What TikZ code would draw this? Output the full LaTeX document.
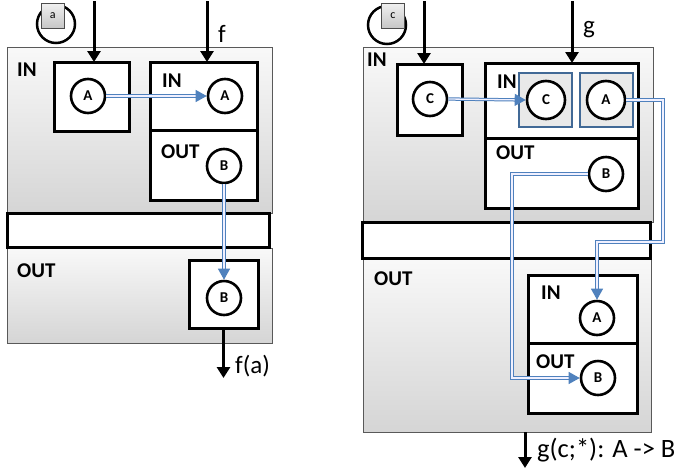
\documentclass[tikz,border=0pt]{standalone}
\usepackage{fontspec}
\setmainfont{Carlito}
\usetikzlibrary{arrows.meta,calc}
\definecolor{lblue}{RGB}{79,129,189}
\definecolor{dblue}{RGB}{65,105,150}
\tikzset{
 panel/.style={draw=gray!70!black,line width=.8pt,top color=gray!5,bottom color=gray!33,anchor=north west,inner sep=0,outer sep=0},
 box/.style={draw,line width=3pt,fill=white,anchor=north west,inner sep=0,outer sep=0},
 bbox/.style={draw=dblue,line width=2.6pt,fill=gray!17,anchor=north west,inner sep=0,outer sep=0,minimum width=53pt,minimum height=54pt},
 tok/.style={circle,draw,line width=2.6pt,fill=white,inner sep=0,minimum size=34pt,font=\fontsize{15}{15}\selectfont\bfseries},
 tokring/.style={circle,draw=black,line width=2.5pt,inner sep=0,minimum size=38pt},
 chip/.style={draw=gray!60!black,line width=.6pt,top color=gray!12,bottom color=gray!45,anchor=north west,inner sep=0,minimum width=23pt,minimum height=25pt,font=\fontsize{12}{12}\selectfont},
 lab/.style={anchor=west,inner sep=0,font=\fontsize{21}{21}\selectfont\bfseries},
 txt/.style={anchor=base west,inner sep=0,font=\fontsize{25}{25}\selectfont},
 blk/.style={line width=3pt,-{Triangle[length=11pt,width=13pt]}},
 flow/.style={draw=lblue,double=blue!6,double distance=1.3pt,line width=1pt,-{Triangle[length=11pt,width=12pt,fill=lblue]}}
}
\begin{document}
\begin{tikzpicture}[x=1pt,y=-1pt]
 \useasboundingbox (0,0) rectangle (682,472);
 % left: f applied to a
 \node[panel,minimum width=265pt,minimum height=166pt] (inL) at (7,47) {};
 \node[panel,minimum width=265pt,minimum height=95pt] (outL) at (7,248) {};
 \node[box,minimum width=262pt,minimum height=34pt] (barL) at (7,213) {};
 \node[box,minimum width=75pt,minimum height=69pt] (boxA) at (54,62) {};
 \node[box,minimum width=107pt,minimum height=68pt] (fIn) at (150,62) {};
 \node[box,minimum width=107pt,minimum height=70pt] (fOut) at (150,130) {};
 \node[box,minimum width=69pt,minimum height=68pt] (boxB) at (189,260) {};
 \node[lab] (inLl) at (17,70) {IN};
 \node[lab] (outLl) at (17,271) {OUT};
 \node[lab] (fInl) at (162,81) {IN};
 \node[lab] (fOutl) at (161,152) {OUT};
 \node[tok] (a1) at (88,96) {A};
 \node[tok] (fa) at (225,96) {A};
 \node[tok] (fb) at (224,166) {B};
 \node[tok] (b2) at (224,298) {B};
 \node[tokring] (ra) at (56,24) {};
 \node[chip] (ca) at (41,3) {a};
 \node[txt] (fl) at (218,42) {f};
 \coordinate (ta) at (94,1);
 \coordinate (tf) at (207,1);
 \coordinate (ofa) at (223.5,378);
 \node[txt] (fal) at (235,373) {f(a)};
 \draw[blk] (ta) -- (ta |- boxA.north);
 \draw[blk] (tf) -- (tf |- fIn.north);
 \draw[blk] (boxB.south) -- (ofa);
 \draw[flow] (a1.east) -- (fa.west);
 \draw[flow] (fb.south) -- (b2.north);
 % right: g applied to c
 \node[panel,minimum width=290pt,minimum height=175pt] (inR) at (363,47) {};
 \node[panel,minimum width=288pt,minimum height=174pt] (outR) at (363,258) {};
 \node[box,minimum width=288pt,minimum height=36pt] (barR) at (362,222) {};
 \node[box,minimum width=65pt,minimum height=71pt] (boxC) at (397,64) {};
 \node[box,minimum width=153pt,minimum height=75pt] (gIn) at (485,63) {};
 \node[box,minimum width=153pt,minimum height=70pt] (gOut) at (485,138) {};
 \node[bbox] (cB) at (519,73) {};
 \node[bbox] (aB) at (580,73) {};
 \node[box,minimum width=109pt,minimum height=68pt] (hIn) at (528,275) {};
 \node[box,minimum width=109pt,minimum height=70pt] (hOut) at (528,343) {};
 \node[lab] (inRl) at (367,60) {IN};
 \node[lab] (outRl) at (374,279) {OUT};
 \node[lab] (gInl) at (497,82) {IN};
 \node[lab] (gOutl) at (496,153) {OUT};
 \node[lab] (hInl) at (541,293) {IN};
 \node[lab] (hOutl) at (536,362) {OUT};
 \node[tok] (c1) at (430,99) {C};
 \node[tok,minimum size=38pt] (c2) at (546,100) {C};
 \node[tok,minimum size=38pt] (a2) at (606,100) {A};
 \node[tok] (b3) at (606,174) {B};
 \node[tok] (a3) at (597,318) {A};
 \node[tok] (b4) at (598,378) {B};
 \node[tokring] (rc) at (387,25) {};
 \node[chip] (cc) at (381,3) {c};
 \node[txt] (gl) at (583,33) {g};
 \coordinate (tc) at (424,1);
 \coordinate (tg) at (572,1);
 \coordinate (ogc) at (525,468);
 \coordinate (ka) at (663,242);
 \coordinate (kb) at (512,378);
 \node[txt,font=\fontsize{26.5}{26.5}\selectfont] (gcl) at (537,457) {g(c;*): A -> B};
 \draw[blk] (tc) -- (tc |- boxC.north);
 \draw[blk] (tg) -- (tg |- gIn.north);
 \draw[blk] (ogc |- outR.south) -- (ogc);
 \draw[flow] (c1.east) -- (c2.west);
 \draw[flow] (a2.east) -| (ka) -| (a3.north);
 \draw[flow] (b3.west) -| (kb) -- (b4.west);
\end{tikzpicture}
\end{document}
